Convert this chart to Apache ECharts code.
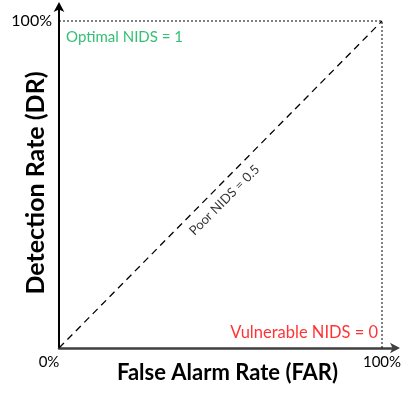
<!DOCTYPE html>
<html>
<head>
<meta charset="utf-8">
<script src="https://cdn.jsdelivr.net/npm/echarts@6/dist/echarts.min.js"></script>
<style>
  html, body { margin: 0; padding: 0; background: #fff; }
  #chart { width: 417px; height: 404px; }
</style>
</head>
<body>
<div id="chart"></div>
<script>
// data
const diagonal = [[0, 0], [1, 1]];
const bounds = [[0, 1], [1, 1], [1, 0]];
const tickValues = [0, 1];
const notes = [
  { name: "Optimal NIDS = 1", value: [0.022, 0.951] },
  { name: "Vulnerable NIDS = 0", value: [0.988, 0.046] },
  { name: "Poor NIDS = 0.5", value: [0.512, 0.452] }
];

const FONT = "Lato";
const chart = echarts.init(document.getElementById("chart"));

function pct(v) {
  return Math.round(v * 100) + "%";
}

const option = {
  animation: false,
  grid: { left: 59, right: 21, top: 6, bottom: 56, containLabel: false, outerBoundsMode: "none" },
  xAxis: {
    type: "value",
    min: 0,
    max: 1.0433,
    splitLine: { show: false },
    axisTick: { show: false },
    axisLine: {
      lineStyle: { color: "#404040", width: 2.5 },
      symbol: ["none", "arrow"],
      symbolSize: [8, 10],
      symbolOffset: [0, 4]
    },
    axisLabel: {
      customValues: tickValues,
      margin: 7,
      fontFamily: FONT,
      fontSize: 15,
      color: "#000",
      formatter: function (v) {
        return v === 0 ? "{l|" + pct(v) + "}" : pct(v);
      },
      rich: { l: { fontFamily: FONT, fontSize: 15, color: "#000", padding: [0, 20, 0, 0] } }
    },
    name: "False Alarm Rate (FAR)",
    nameLocation: "middle",
    nameGap: 14,
    nameMoveOverlap: false,
    nameTextStyle: {
      fontFamily: FONT, fontSize: 22, fontWeight: "bold", color: "#000",
      verticalAlign: "top"
    }
  },
  yAxis: {
    type: "value",
    min: 0,
    max: 1.0459,
    splitLine: { show: false },
    axisTick: { show: false },
    axisLine: {
      lineStyle: { color: "#000", width: 2 },
      symbol: ["none", "arrow"],
      symbolSize: [8, 10],
      symbolOffset: [0, 4]
    },
    axisLabel: {
      customValues: [1],
      margin: 7,
      fontFamily: FONT,
      fontSize: 16,
      color: "#000",
      formatter: pct
    },
    name: "Detection Rate (DR)",
    nameLocation: "middle",
    nameGap: 11,
    nameMoveOverlap: false,
    nameTextStyle: {
      fontFamily: FONT, fontSize: 25, fontWeight: "bold", color: "#000",
      padding: [0, 12, 0, 0]
    }
  },
  series: [
    {
      type: "line",
      data: bounds,
      symbol: "none",
      silent: true,
      lineStyle: { color: "#000", width: 1, type: [2, 2] }
    },
    {
      type: "line",
      data: diagonal,
      symbol: "none",
      silent: true,
      lineStyle: { color: "#000", width: 1.3, type: [7, 5] }
    },
    {
      type: "scatter",
      symbolSize: 0,
      silent: true,
      data: [
        {
          value: notes[0].value, name: notes[0].name,
          label: { show: true, position: "inside", align: "left", color: "#00b050", fontSize: 15, fontFamily: FONT, formatter: "{b}" }
        },
        {
          value: notes[1].value, name: notes[1].name,
          label: { show: true, position: "inside", align: "right", color: "#ff0000", fontSize: 16.5, fontFamily: FONT, formatter: "{b}" }
        },
        {
          value: notes[2].value, name: notes[2].name,
          label: { show: true, position: "inside", rotate: 45, color: "#000", fontSize: 13, fontFamily: FONT, formatter: "{b}" }
        }
      ]
    }
  ]
};

chart.setOption(option);
</script>
</body>
</html>
